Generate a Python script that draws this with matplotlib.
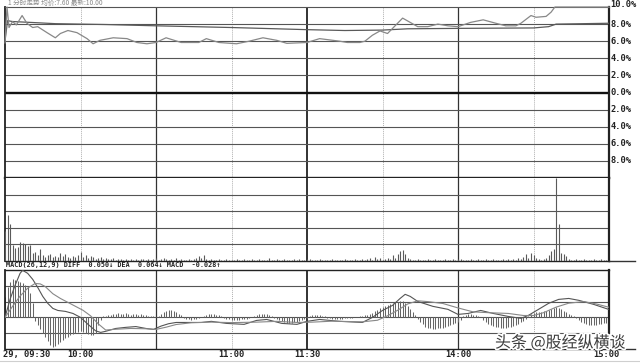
import numpy as np
import matplotlib
matplotlib.use("Agg")
import matplotlib.pyplot as plt
from matplotlib.lines import Line2D
import matplotlib.patheffects as pe

plt.rcParams['font.family'] = ['DejaVu Sans Mono', 'Noto Sans CJK SC']

W, H = 640, 364

# ---- data ----
minutes = np.arange(241)   # 09:30 .. 11:30 + 13:00 .. 15:00

# price line, % change vs previous close
price_t = [0, 0.8, 1.6, 3, 4.5, 6.8, 8.7, 11, 13, 16.7, 20, 22, 25, 28.6, 32.6, 35, 37.7,
           43, 48.5, 52.4, 56.4, 60, 64, 70, 77, 80, 85, 92, 97, 102.5, 108, 112, 120,
           125, 133, 136, 141, 143, 146, 149, 152, 154, 158, 161, 164, 168, 172, 176,
           180, 185, 190, 195, 199, 203, 205, 209, 211, 215, 217, 218.5, 240]
price_pct = [5.8, 10.0, 7.6, 8.3, 7.9, 9.0, 8.1, 7.6, 7.7, 7.0, 6.4, 6.9, 7.25, 7.0, 6.3, 5.7, 6.1,
             6.4, 6.3, 5.85, 5.7, 5.85, 6.4, 5.85, 5.85, 6.3, 5.85, 5.7, 6.0, 6.4, 6.1, 5.75, 5.85,
             6.3, 6.0, 5.85, 5.85, 6.0, 6.7, 7.2, 6.9, 7.5, 8.7, 8.2, 7.7, 7.7, 8.0, 7.8,
             7.7, 8.2, 8.5, 8.1, 7.8, 7.8, 8.1, 9.0, 8.8, 8.9, 9.4, 10.0, 10.0]

# average price line
avg_t = [0, 1, 3, 10, 20, 40, 60, 90, 120, 135, 150, 160, 180, 210, 216, 219, 230, 240]
avg_pct = [6.0, 8.4, 8.3, 8.2, 8.05, 7.95, 7.8, 7.6, 7.35, 7.25, 7.3, 7.45, 7.5, 7.55, 7.7, 8.0, 8.05, 8.1]

# volume per minute
volume = [30, 46, 37, 16, 13, 14, 19, 18, 17, 15, 16, 8, 9, 6, 12, 6, 4, 6, 7, 4, 5, 4, 8, 5, 7, 4, 3, 5, 4, 6, 9,
          4, 6, 3, 5, 4, 2, 3, 4, 2, 3, 2, 2, 3, 1, 2, 2, 1, 2, 1, 2, 1, 2, 1, 2, 2, 1, 2, 1, 2, 3,
          1, 2, 3, 2, 1, 2, 1, 3, 1, 2, 1, 1, 2, 1, 2, 3, 5, 3, 6, 2, 1, 2, 1, 1, 2, 1, 1, 2, 1, 1,
          1, 2, 1, 1, 2, 1, 1, 2, 1, 1, 2, 1, 1, 1, 3, 1, 1, 2, 1, 1, 2, 1, 1, 1, 2, 1, 2, 1, 1, 2,
          2, 1, 1, 1, 2, 1, 1, 1, 1, 2, 1, 1, 1, 1, 2, 1, 1, 1, 2, 1, 1, 2, 1, 2, 3, 1, 4, 2, 3, 1,
          2, 3, 2, 6, 3, 7, 10, 11, 7, 3, 2, 1, 1, 2, 1, 1, 1, 2, 1, 1, 2, 1, 1, 1, 2, 1, 1, 2, 1, 2,
          2, 1, 1, 1, 2, 1, 1, 2, 1, 1, 2, 1, 1, 2, 1, 1, 1, 2, 1, 2, 1, 2, 1, 3, 2, 4, 7, 3, 8, 6,
          3, 2, 1, 2, 3, 6, 10, 12, 83, 37, 8, 7, 5, 2, 1, 1, 2, 1, 1, 2, 1, 1, 1, 2, 1, 1, 2, 1, 1, 2]

# MACD histogram, in steps of MACD_STEP
MACD_STEP = 0.00633
macd_bar_steps = [20, 30, 35, 38, 37, 36, 35, 34, 32, 30, 24, 14,
                  -4, -8, -12, -16, -20, -24, -28, -30, -29, -27, -25, -23, -21, -20, -18, -17, -16,
                  -15, -14, -15, -16, -17, -18, -18, -16, -8, -3,
                  1, 1, 2, 2, 3, 3, 4, 3, 3, 4, 3, 2, 3, 3, 2, 3, 2, 2, 1, 1, 1, 0, 1,
                  3, 5, 6, 7, 7, 6, 5, 3, 2,
                  -1, -2, -2, -3, -2, -2, -1, 0,
                  1, 2, 3, 3, 3, 2, 2, 1,
                  -1, -2, -2, -3, -3, -3, -3, -2, -2, -2, -1, 0,
                  1, 2, 3, 3, 3, 3, 2, 1,
                  -1, -2, -3, -4, -5, -6, -6, -6, -5, -5, -4, -3, -2, -1,
                  1, 2, 2, 2, 2, 1, 1,
                  -1, -1, -2, -2, -2, -2, -2, -1, -1, -1, -1, 0, 0, 1,
                  1, 2, 2, 3, 4, 6, 7, 9, 10, 11, 12, 13, 14, 15, 15, 16, 16, 14, 11, 8, 5, 2,
                  -2, -5, -7, -10, -11, -11, -12, -12, -11, -11, -11, -10, -9, -8, -7, -6, -5, -3,
                  1, 2, 3, 3, 2, 2, 1, 0,
                  -3, -5, -7, -8, -9, -10, -10, -11, -11, -11, -10, -10, -9, -8, -7, -5, -4, -2,
                  1, 3, 4, 5, 5, 5, 6, 6, 7, 8, 9, 10, 9, 8, 6, 5, 3, 2, 1,
                  -1, -3, -5, -6, -7, -8, -8, -8, -8, -7, -7, -6, -6, -5]

diff_t = [0, 2, 4, 6, 7, 9, 11, 13, 15, 17, 19, 21, 24, 27, 30, 33, 36, 38, 40, 44,
          48, 52, 56, 59, 62, 65, 68, 72, 78, 82, 88, 95, 100, 104, 110, 116, 120, 125, 133, 142,
          146, 150, 154, 157, 159, 161, 164, 170, 176, 180, 184, 189, 194, 200, 205, 208, 212, 216, 220, 224,
          228, 234, 240]
diff_v = [0.0, 0.114, 0.203, 0.279, 0.298, 0.279, 0.241, 0.19, 0.133, 0.089,
          0.057, 0.044, 0.038, 0.025, 0.0, -0.044, -0.085, -0.095, -0.088, -0.07,
          -0.063, -0.058, -0.07, -0.076, -0.055, -0.04, -0.032, -0.032, -0.032, -0.025,
          -0.038, -0.044, -0.019, -0.013, -0.038, -0.044, -0.025, -0.013, -0.025, -0.032,
          0.0, 0.044, 0.076, 0.12, 0.146, 0.133, 0.101, 0.07, 0.051, 0.019,
          0.025, 0.044, 0.025, 0.006, -0.006, 0.013, 0.051, 0.089, 0.114, 0.12,
          0.108, 0.082, 0.050]

dea_t = [0, 3, 6, 9, 12, 14, 16, 19, 22, 25, 28, 31, 34, 37, 40, 44, 50, 56, 60, 64,
         68, 74, 82, 90, 100, 108, 116, 122, 130, 142, 148, 152, 156, 160, 164, 168, 174, 180, 186, 192,
         200, 206, 210, 214, 219, 224, 230, 235, 240]
dea_v = [0.0, 0.07, 0.135, 0.185, 0.215, 0.212, 0.195, 0.15, 0.12, 0.095,
         0.07, 0.045, 0.01, -0.04, -0.08, -0.075, -0.07, -0.072, -0.076, -0.062,
         -0.045, -0.034, -0.03, -0.033, -0.03, -0.025, -0.032, -0.03, -0.024, -0.028,
         -0.018, 0.01, 0.045, 0.085, 0.105, 0.1, 0.088, 0.06, 0.035, 0.03,
         0.025, 0.012, 0.012, 0.03, 0.065, 0.09, 0.1, 0.085, 0.064]

pct_levels = [10, 8, 6, 4, 2, 0, -2, -4, -6, -8]
time_ticks = [0, 30, 90, 120, 180, 239]
time_labels = ["29, 09:30", "10:00", "11:00", "11:30", "14:00", "15:00"]
macd_title = "MACD(26,12,9) DIFF  0.050↓ DEA  0.064↓ MACD  -0.028↑"


def px_box(left, top, right, bottom):
    return [left / W, 1 - bottom / H, (right - left) / W, (bottom - top) / H]


def grid_frame(ax):
    ax.set_xlim(0, 240)
    ax.set_xticks([])
    ax.set_yticks([])
    for s in ax.spines.values():
        s.set_color('#222')
        s.set_linewidth(1.0)
    ax.spines['left'].set_linewidth(1.3)
    ax.spines['right'].set_linewidth(1.6)
    for t in [30, 90, 150, 210]:
        ax.axvline(t, color='#b0b0b0', lw=0.7, ls=(0, (1, 1)), zorder=1)
    for t in [60, 180]:
        ax.axvline(t, color='#333', lw=0.9, zorder=1)
    ax.axvline(120, color='#222', lw=1.3, zorder=1)


fig = plt.figure(figsize=(W / 100, H / 100), dpi=100)
fig.patch.set_facecolor('white')

# price panel
ax_p = fig.add_axes(px_box(5, 7, 609, 178))
grid_frame(ax_p)
ax_p.set_ylim(-10, 10)
for lv in pct_levels[1:]:
    if lv == 0:
        ax_p.axhline(0, color='#111', lw=1.7, zorder=1)
    else:
        ax_p.axhline(lv, color='#555', lw=0.8, zorder=1)
ax_p.spines['top'].set_color('#555')
ax_p.spines['top'].set_linewidth(0.8)
ax_p.spines['bottom'].set_linewidth(1.7)
ax_p.plot(avg_t, avg_pct, color='#5a5a5a', lw=0.9, zorder=3)
ax_p.plot(price_t, price_pct, color='#888', lw=0.9, zorder=4, clip_on=False)
for lv in pct_levels:
    yoff = 0.35 if lv == 10 else 0
    ax_p.text(1.002, lv + yoff, f"{abs(lv):.1f}%", transform=ax_p.get_yaxis_transform(),
              ha='left', va='center', fontsize=6.3, fontweight='bold', color='#222')

# volume panel
ax_v = fig.add_axes(px_box(5, 178, 609, 261))
grid_frame(ax_v)
ax_v.set_ylim(0, 83)
for lv in [16.6, 33.2, 49.8, 66.4]:
    ax_v.axhline(lv, color='#555', lw=0.8, zorder=1)
ax_v.spines['top'].set_visible(False)
ax_v.vlines(minutes, 0, volume, color='#5a5a5a', lw=0.8, zorder=3)

# MACD panel
ax_m = fig.add_axes(px_box(5, 270, 609, 349))
grid_frame(ax_m)
ax_m.set_ylim(-0.2, 0.3)
for lv in [-0.1, 0.0, 0.1, 0.2]:
    ax_m.axhline(lv, color='#555', lw=0.8, zorder=1)
macd_bar = np.array(macd_bar_steps) * MACD_STEP
ax_m.vlines(minutes, 0, macd_bar, color='#666', lw=0.75, zorder=2)
ax_m.plot(diff_t, diff_v, color='#555', lw=0.8, zorder=3)
ax_m.plot(dea_t, dea_v, color='#888', lw=0.8, zorder=3)

fig.text(6 / W, 1 - 265.5 / H, macd_title, ha='left', va='center',
         fontsize=4.9, fontweight='bold', color='#222')

for t, lab in zip(time_ticks, time_labels):
    ha = 'left' if t == 0 else 'center'
    xt = -0.8 if t == 0 else t
    ax_m.text(xt, -5.5 / 79, lab, transform=ax_m.get_xaxis_transform(),
              ha=ha, va='center', fontsize=6.3, fontweight='bold', color='#222')

# little right-hand ticks and bottom rule
for y in [261, 349]:
    fig.add_artist(Line2D([609 / W, 635 / W], [1 - y / H, 1 - y / H], color='#333', lw=1.0))
fig.add_artist(Line2D([0, 1], [1 - 361 / H, 1 - 361 / H], color='#cfcfcf', lw=0.8))

# header text on top
fig.text(8 / W, 1 - 3 / H, "1 分时走势 均价:7.60 最新:10.00", ha='left', va='center',
         fontsize=4.8, color='#8a8a8a', family=['Noto Sans CJK SC', 'DejaVu Sans'])

# watermark
fig.text(495 / W, 1 - 343 / H, "头条 @股经纵横谈", ha='left', va='center', fontsize=11.5,
         color='#3c3c3c', family=['Noto Sans CJK SC', 'DejaVu Sans'],
         path_effects=[pe.withStroke(linewidth=2.5, foreground='white')])

fig.savefig('out.png', dpi=100, facecolor='white')
